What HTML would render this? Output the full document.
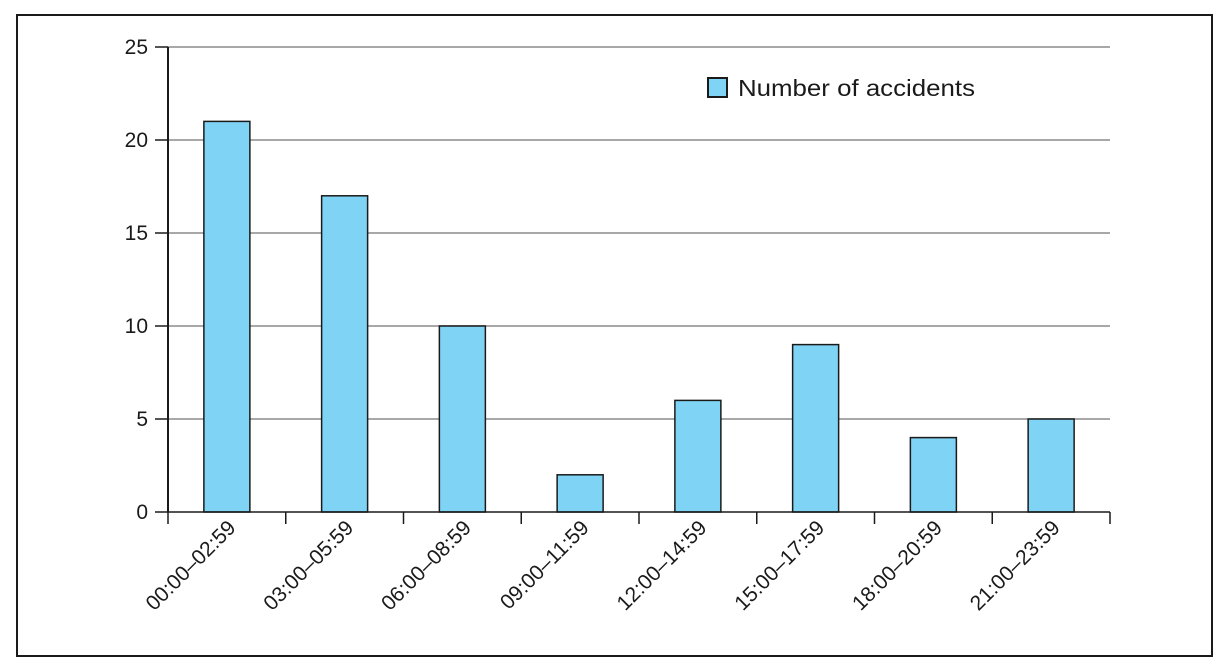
<!DOCTYPE html>
<html><head><meta charset="utf-8"><style>
html,body{margin:0;padding:0;background:#fff;}
svg{display:block;font-family:"Liberation Sans",sans-serif;}
</style></head><body>
<svg id="chart" width="1219" height="664" viewBox="0 0 1219 664" xmlns="http://www.w3.org/2000/svg">
<rect x="17" y="15" width="1195" height="641" fill="none" stroke="#1a1a1a" stroke-width="2"/>
<g id="grid"></g><g id="bars"></g><g id="axes"></g>
<g>
<rect x="708" y="78" width="19" height="19" fill="#7fd4f6" stroke="#1a1a1a" stroke-width="2"/>
<text x="738" y="96" font-size="23.5" fill="#1a1a1a" textLength="237" lengthAdjust="spacingAndGlyphs">Number of accidents</text>
</g>
</svg>
<script>
const categories=["00:00–02:59","03:00–05:59","06:00–08:59","09:00–11:59","12:00–14:59","15:00–17:59","18:00–20:59","21:00–23:59"];
const accidents=[21,17,10,2,6,9,4,5];
const yTicks=[0,5,10,15,20,25];
const NS="http://www.w3.org/2000/svg";
const x0=168,x1=1110,yb=512,yt=47,yMax=25;
const bw=(x1-x0)/categories.length;
const y=v=>yb-(v/yMax)*(yb-yt);
const cx=i=>x0+bw*(i+0.5);
function mk(t,a,p){const e=document.createElementNS(NS,t);for(const k in a)e.setAttribute(k,a[k]);p.appendChild(e);return e;}
const grid=document.getElementById('grid'),bars=document.getElementById('bars'),axes=document.getElementById('axes');
yTicks.forEach(v=>{
 if(v>0){const g=mk('line',{x1:x0,x2:x1,y1:y(v),y2:y(v),stroke:'#8c8c8c','stroke-width':1.5},grid);
 
 }
 const t=mk('line',{x1:155,x2:x0,y1:y(v),y2:y(v),stroke:'#1a1a1a','stroke-width':1.5},axes);
 
 
 const l=mk('text',{x:148,y:y(v)+7,'text-anchor':'end','font-size':21,fill:'#1a1a1a'},axes);
 l.textContent=v;
 
 
});
accidents.forEach((v,i)=>{
 const r=mk('rect',{x:cx(i)-23,y:y(v),width:46,height:yb-y(v),fill:'#7fd4f6',stroke:'#1a1a1a','stroke-width':1.5},bars);
 
 
});
const ya=mk('line',{x1:x0,x2:x0,y1:yt,y2:yb,stroke:'#1a1a1a','stroke-width':2},axes);


const xa=mk('line',{x1:x0,x2:x1,y1:yb,y2:yb,stroke:'#1a1a1a','stroke-width':1.5},axes);


for(let i=0;i<=categories.length;i++){
 const t=mk('line',{x1:x0+bw*i,x2:x0+bw*i,y1:yb,y2:yb+12,stroke:'#1a1a1a','stroke-width':1.5},axes);
 
 
}
categories.forEach((c,i)=>{
 const px=cx(i)+10,py=529;
 const l=mk('text',{x:px,y:py,'text-anchor':'end','font-size':21,fill:'#1a1a1a',transform:`rotate(-45 ${px} ${py})`},axes);
 l.textContent=c;
 
 
});
</script>
</body></html>
